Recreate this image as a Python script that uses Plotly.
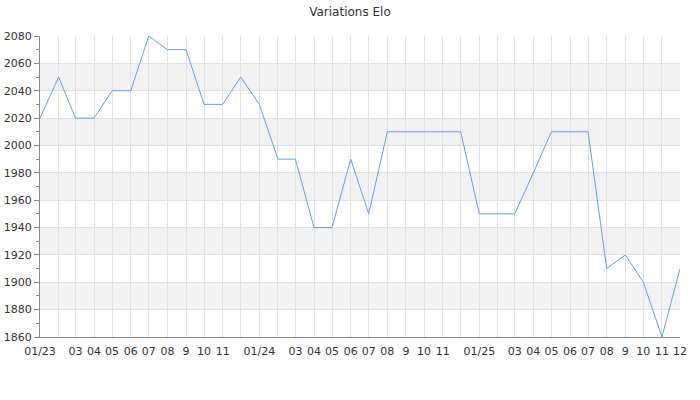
import plotly.graph_objects as go

# Monthly Elo from 01/2023 to 12/2025
months = [f"{y}-{m:02d}-01" for y in (2023, 2024, 2025) for m in range(1, 13)]
elo = [2020, 2050, 2020, 2020, 2040, 2040, 2080, 2070, 2070, 2030, 2030, 2050,
       2030, 1990, 1990, 1940, 1940, 1990, 1950, 2010, 2010, 2010, 2010, 2010,
       1950, 1950, 1950, 1980, 2010, 2010, 2010, 1910, 1920, 1900, 1860, 1910]
tick_labels = ["01/23", "", "03", "04", "05", "06", "07", "08", "9", "10", "11", "",
               "01/24", "", "03", "04", "05", "06", "07", "08", "9", "10", "11", "",
               "01/25", "", "03", "04", "05", "06", "07", "08", "9", "10", "11", "12"]
y_ticks = list(range(1860, 2081, 20))

fig = go.Figure()

fig.add_trace(go.Scatter(
    x=months,
    y=elo,
    mode='lines',
    line=dict(color='#6b9bee', width=1),
    showlegend=False,
    hoverinfo='x+y'
))

# alternating grey bands between y gridlines
for lo, hi in zip(y_ticks[1::2], y_ticks[2::2]):
    fig.add_shape(type='rect', xref='paper', yref='y', x0=0, x1=1, y0=lo, y1=hi,
                  fillcolor='#f2f2f2', line_width=0, layer='below')

fig.update_layout(
    title=dict(text='Variations Elo', x=0.5, xanchor='center', y=0.97, yanchor='middle',
               font=dict(size=12, color='#333333')),
    font=dict(family='DejaVu Sans', size=11, color='#333333'),
    width=700, height=400,
    margin=dict(l=40, r=20, t=36, b=63),
    plot_bgcolor='white',
    paper_bgcolor='white',
)

fig.update_xaxes(
    range=[months[0], months[-1]],
    tickvals=months,
    ticktext=tick_labels,
    tickangle=0,
    ticklabelstandoff=4,
    showgrid=True, gridcolor='#e2e2e2', gridwidth=1,
    showline=True, linecolor='#888888', linewidth=1,
    ticks='', zeroline=False,
    automargin=False,
)

fig.update_yaxes(
    range=[1860, 2080],
    tickvals=y_ticks,
    showgrid=True, gridcolor='#e2e2e2', gridwidth=1,
    showline=True, linecolor='#888888', linewidth=1,
    ticks='outside', ticklen=5, tickcolor='#888888',
    minor=dict(dtick=10, ticks='outside', ticklen=3, tickcolor='#888888', showgrid=False),
    zeroline=False,
    automargin=False,
)

# drop the default page margin so the figure sits at the window's corner
fig.write_html("out.html", config={'displayModeBar': False},
               post_script="document.body.style.margin = '0';")
